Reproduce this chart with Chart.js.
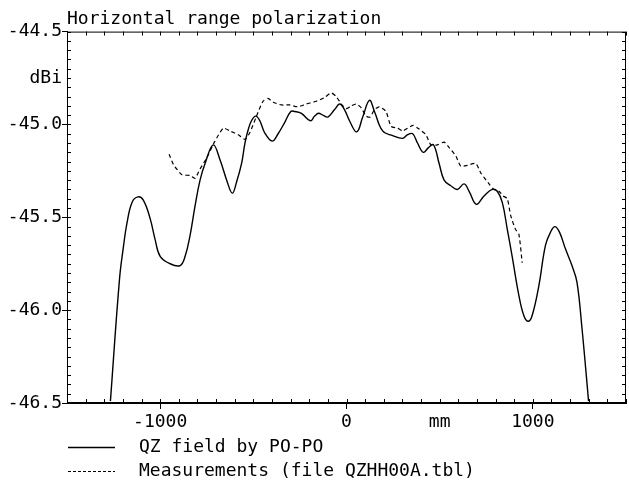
<!DOCTYPE html>
<html>
<head>
<meta charset="utf-8">
<script src="https://cdn.jsdelivr.net/npm/chart.js@4"></script>
<style>
  html, body { margin: 0; padding: 0; background: #fff; }
  #wrap { width: 629px; height: 484px; }
</style>
</head>
<body>
<div id="wrap"><canvas id="grafico" width="629" height="484"></canvas></div>
<script>
const titulo = 'Horizontal range polarization';

// QZ field by PO-PO (mm, dBi)
const campoX = [-1267, -1218, -1196, -1178, -1151, -1119, -1089, -1053, -1027, -1000,
  -947, -893, -866, -840, -813, -786, -759, -715, -679, -643, -613, -590, -563, -545,
  -528, -510, -487, -465, -439, -399, -367, -332, -299, -278, -242, -194, -171, -150,
  -127, -100, -64, -37, -11, 16, 55, 87, 123, 150, 194, 248, 301, 328, 355, 381, 412,
  440, 467, 497, 524, 560, 595, 631, 658, 697, 738, 782, 809, 836, 863, 889, 925, 952,
  975, 996, 1032, 1068, 1095, 1118, 1143, 1175, 1210, 1237, 1264, 1285, 1299];
const campoY = [-46.49, -45.83, -45.65, -45.53, -45.42, -45.39, -45.41, -45.51, -45.62, -45.71,
  -45.75, -45.76, -45.71, -45.60, -45.44, -45.30, -45.21, -45.11, -45.19, -45.30, -45.37, -45.31, -45.21, -45.10,
  -45.03, -44.98, -44.955, -44.98, -45.045, -45.09, -45.05, -44.99, -44.93, -44.93, -44.94, -44.98, -44.955, -44.94,
  -44.95, -44.96, -44.92, -44.89, -44.92, -44.98, -45.04, -44.96, -44.87, -44.93, -45.035, -45.06, -45.075, -45.055, -45.05, -45.10, -45.15,
  -45.125, -45.11, -45.21, -45.30, -45.33, -45.35, -45.32, -45.36, -45.43, -45.385, -45.35, -45.36, -45.42, -45.565, -45.71, -45.92, -46.03,
  -46.06, -46.03, -45.87, -45.65, -45.58, -45.55, -45.58, -45.67, -45.76, -45.85, -46.10, -46.33, -46.49];

// Measurements (file QZHH00A.tbl)
const medidaX = [-952, -929, -884, -840, -813, -786, -750, -706, -661, -626, -581, -545,
  -519, -483, -448, -421, -394, -349, -305, -260, -216, -162, -118, -82, -55, -28, -2,
  25, 52, 79, 105, 127, 150, 176, 212, 239, 274, 301, 328, 358, 390, 426, 453, 488,
  524, 551, 587, 613, 649, 694, 720, 765, 791, 818, 841, 863, 881, 907, 925, 943];
const medidaY = [-45.16, -45.215, -45.27, -45.275, -45.29, -45.24, -45.18, -45.09, -45.02, -45.035, -45.055, -45.08,
  -45.045, -44.955, -44.875, -44.86, -44.88, -44.895, -44.895, -44.905, -44.89, -44.875, -44.855, -44.83, -44.85, -44.89, -44.915,
  -44.90, -44.89, -44.91, -44.955, -44.96, -44.92, -44.905, -44.93, -45.01, -45.02, -45.035, -45.02, -45.005, -45.025, -45.055, -45.11, -45.11,
  -45.095, -45.125, -45.17, -45.225, -45.22, -45.21, -45.26, -45.32, -45.35, -45.36, -45.385, -45.40, -45.49, -45.565, -45.59, -45.745];

// tick labels
const xRotuloValores = [-1000, 0, 500, 1000];
const xRotulos = ['-1000', '0', 'mm', '1000'];
const yRotuloValores = [-44.5, -44.75, -45, -45.5, -46, -46.5];
const yRotulos = ['-44.5', 'dBi', '-45.0', '-45.5', '-46.0', '-46.5'];
const xMajores = [-1000, 0, 1000];

const fonte = { family: 'DejaVu Sans Mono', size: 18, weight: 'normal' };
Chart.defaults.font.family = 'DejaVu Sans Mono';
Chart.defaults.color = '#000';

const pontos = (xs, ys) => xs.map((v, i) => ({ x: v, y: ys[i] }));

// minor ticks, frame and legend
const moldura = {
  id: 'moldura',
  afterDatasetsDraw(chart) {
    const { ctx, chartArea: a, scales: { x, y } } = chart;
    ctx.save();
    ctx.strokeStyle = '#000';
    ctx.lineWidth = 1;
    ctx.setLineDash([]);
    ctx.strokeRect(a.left + 0.5, a.top + 0.5, a.right - a.left - 1, a.bottom - a.top - 1);
    ctx.beginPath();
    for (let v = -1500; v <= 1500; v += 100) {
      const px = Math.round(x.getPixelForValue(v)) + 0.5;
      ctx.moveTo(px, a.bottom); ctx.lineTo(px, a.bottom - 4);
      ctx.moveTo(px, a.top); ctx.lineTo(px, a.top + 4);
    }
    for (let i = 0; i <= 40; i++) {
      const py = Math.round(y.getPixelForValue(-46.5 + i * 0.05)) + 0.5;
      ctx.moveTo(a.left, py); ctx.lineTo(a.left + 4, py);
      ctx.moveTo(a.right, py); ctx.lineTo(a.right - 4, py);
    }
    ctx.stroke();

    ctx.font = '18px "DejaVu Sans Mono"';
    ctx.fillStyle = '#000';
    ctx.textBaseline = 'middle';
    ctx.textAlign = 'left';
    chart.data.datasets.forEach((ds, i) => {
      const yy = 447 + i * 24;
      ctx.beginPath();
      ctx.lineWidth = ds.borderWidth;
      ctx.setLineDash(i === 0 ? [] : [3, 2]);
      ctx.moveTo(a.left + 1, yy + 0.5);
      ctx.lineTo(a.left + 48, yy + 0.5);
      ctx.stroke();
      ctx.fillText(ds.label, a.left + 72, yy);
    });
    ctx.restore();
  }
};

new Chart(document.getElementById('grafico'), {
  type: 'line',
  data: {
    datasets: [{
      label: 'QZ field by PO-PO',
      data: pontos(campoX, campoY),
      borderColor: '#000',
      borderWidth: 1.4,
      pointRadius: 0,
      tension: 0.4
    }, {
      label: 'Measurements (file QZHH00A.tbl)',
      data: pontos(medidaX, medidaY),
      borderColor: '#000',
      borderWidth: 1.2,
      borderDash: [4, 3],
      pointRadius: 0,
      tension: 0.2
    }]
  },
  options: {
    responsive: false,
    animation: false,
    layout: { padding: { right: 2 } },
    plugins: {
      legend: { display: false },
      tooltip: { enabled: false },
      title: {
        display: true,
        text: titulo,
        align: 'start',
        fullSize: false,
        color: '#000',
        font: fonte,
        padding: { top: 9, bottom: 1 }
      }
    },
    scales: {
      x: {
        type: 'linear',
        min: -1500,
        max: 1500,
        ticks: {
          stepSize: 500,
          autoSkip: false,
          maxRotation: 0,
          padding: 3,
          color: '#000',
          font: fonte,
          callback: v => {
            const k = xRotuloValores.indexOf(v);
            return k < 0 ? '' : xRotulos[k];
          }
        },
        grid: {
          drawOnChartArea: false,
          drawTicks: true,
          tickLength: 6,
          tickWidth: 1,
          tickColor: c => xMajores.includes(c.tick.value) ? '#000' : 'rgba(0,0,0,0)'
        },
        border: { color: '#000', width: 1 },
        afterFit: s => { s.height = 81; }
      },
      y: {
        min: -46.5,
        max: -44.5,
        ticks: {
          stepSize: 0.25,
          autoSkip: false,
          padding: 0,
          color: '#000',
          font: fonte,
          callback: v => {
            const k = yRotuloValores.indexOf(Math.round(v * 100) / 100);
            return k < 0 ? '' : yRotulos[k];
          }
        },
        grid: {
          drawOnChartArea: false,
          drawTicks: true,
          tickLength: 5,
          tickWidth: 1,
          tickColor: c => Math.abs(c.tick.value * 2 - Math.round(c.tick.value * 2)) < 1e-6 ? '#000' : 'rgba(0,0,0,0)'
        },
        border: { color: '#000', width: 1 },
        afterFit: s => { s.width = 67; }
      }
    }
  },
  plugins: [moldura]
});
</script>
</body>
</html>
